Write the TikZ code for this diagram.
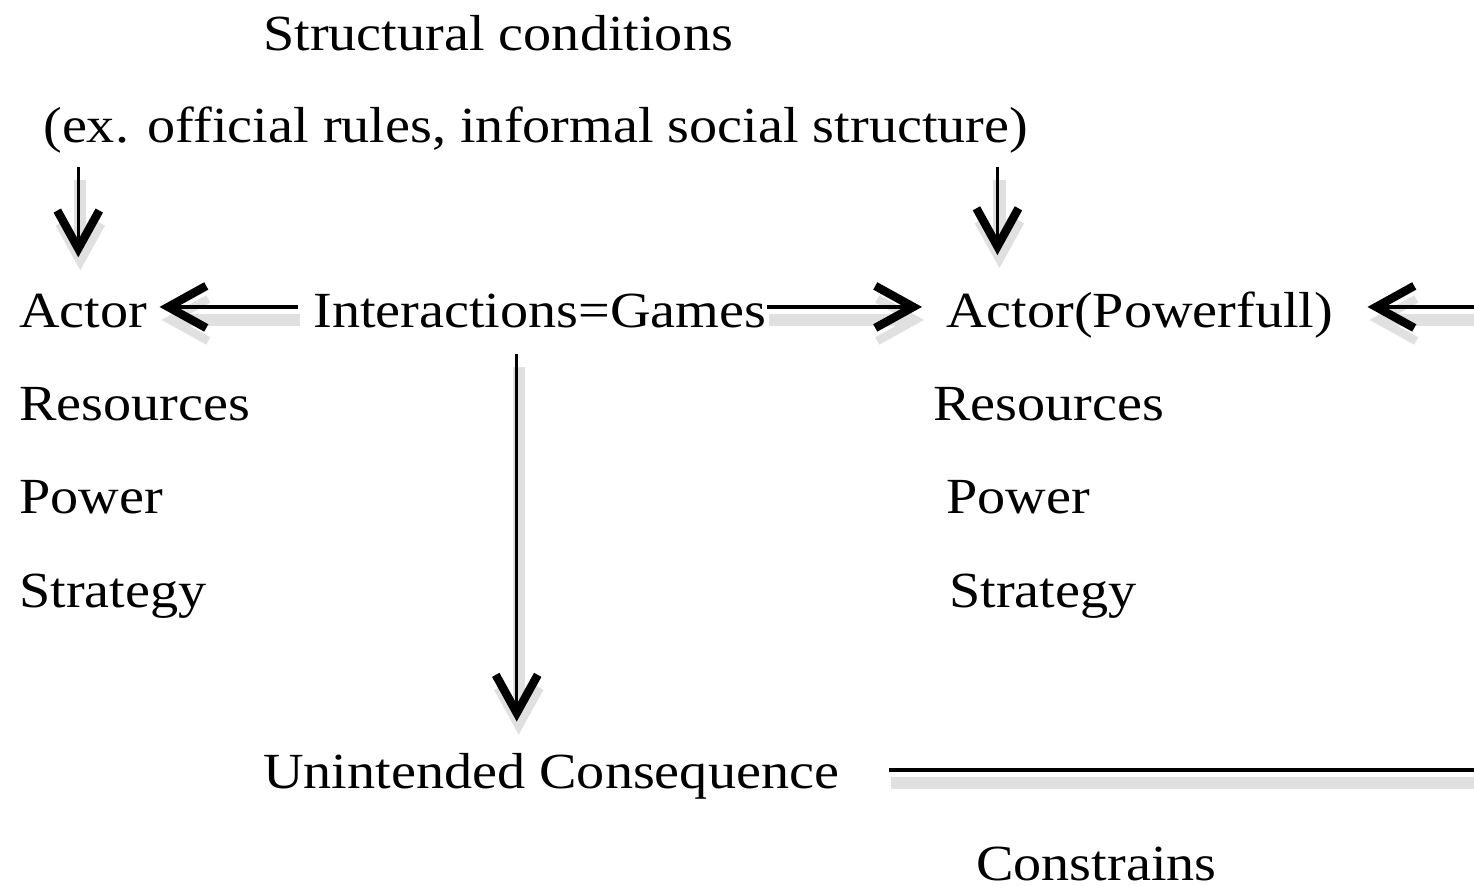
\documentclass[tikz,border=0pt]{standalone}
\usepackage{fontspec}
\setmainfont{Liberation Serif}[FakeStretch=1.11]
\usetikzlibrary{arrows.meta,positioning,calc}
\tikzset{every picture/.style={line width=0.75pt}}
\tikzset{
  lbl/.style={inner sep=0pt, anchor=base west, font=\fontsize{14.4}{17}\selectfont},
  arr/.style={line width=0.9pt, -{Straight Barb[length=3.8mm,width=4.2mm,line width=2.4pt]},
    preaction={draw=black!12, line width=3.5pt, transform canvas={shift={(0.2mm,-1.3mm)}}}},
}

\begin{document}
\begin{tikzpicture}
    \useasboundingbox (0,0) rectangle (14.74,8.85);
    \clip (0,0) rectangle (14.74,8.85);
    % actors, games and what comes out of them
    \node[lbl] (struct) at (2.62,8.35) {Structural conditions};
    \node[lbl] (examples) at (0.42,7.43) {(ex. official rules, informal social structure)};
    \node[lbl] (actorL) at (0.18,5.58) {Actor};
    \node[lbl] (games) at (3.12,5.58) {Interactions=Games};
    \node[lbl] (actorP) at (9.45,5.58) {Actor(Powerfull)};
    \node[lbl] (resL) at (0.18,4.65) {Resources};
    \node[lbl] (powL) at (0.18,3.72) {Power};
    \node[lbl] (stratL) at (0.18,2.78) {Strategy};
    \node[lbl] (resP) at (9.32,4.65) {Resources};
    \node[lbl] (powP) at (9.45,3.72) {Power};
    \node[lbl] (stratP) at (9.48,2.78) {Strategy};
    \node[lbl] (uc) at (2.62,0.97) {Unintended Consequence};
    \node[lbl] (constr) at (9.75,0.05) {Constrains};
    \coordinate (dropL) at ([xshift=-0.5mm]examples.south -| actorL.north);
    \coordinate (dropR) at ([xshift=-3.2mm]examples.south east);
    \coordinate (dropG) at ([xshift=-2.3mm]games.south);
    \draw[arr, shorten <=1.3mm, shorten >=3.5mm] (dropL) -- (dropL |- actorL.north);
    \draw[arr, shorten <=1.3mm, shorten >=3.5mm] (dropR) -- (dropR |- actorP.north);
    \draw[arr, shorten <=1.4mm, shorten >=1.1mm] ([yshift=1.2mm]games.mid west) -- ([yshift=1.2mm]actorL.mid east);
    \draw[arr, shorten >=2.3mm] ([yshift=1.2mm]games.mid east) -- ([yshift=1.2mm]actorP.mid west);
    \draw[arr, shorten <=2.5mm, shorten >=3mm] (dropG) -- (dropG |- uc.north);
    \draw[arr, shorten <=4.9mm, shorten >=3.3mm] ([yshift=1mm]uc.mid east) -| (15.2,3) |- ([yshift=1.2mm]actorP.mid east);
\end{tikzpicture}
\end{document}
